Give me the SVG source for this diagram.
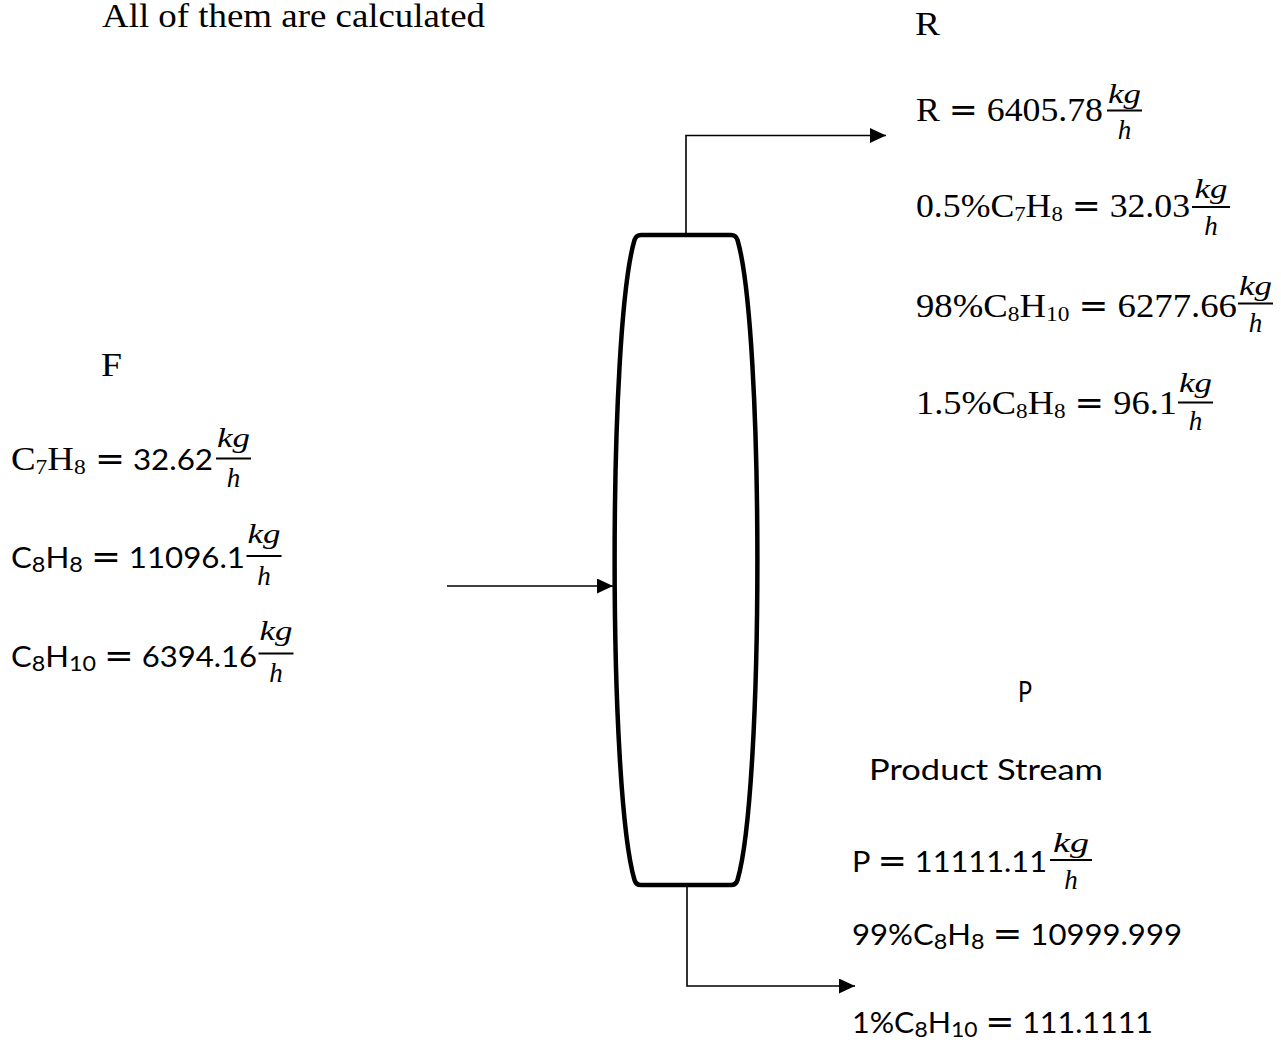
<svg xmlns="http://www.w3.org/2000/svg" width="1281" height="1044" viewBox="0 0 1281 1044">
<style>
.serif{font-family:"Liberation Serif","Times New Roman",serif;font-size:33px;fill:#000}
.sans{font-family:Lato,"Liberation Sans",sans-serif;font-size:28px;fill:#000}
.sub{font-size:21px}
.eq{font-family:"DejaVu Sans",sans-serif;font-size:32px}
.frac{font-family:"Liberation Serif",serif;font-style:italic;font-size:27px;fill:#000;text-anchor:middle}
.bar{stroke:#000;stroke-width:1.8}
.col{fill:none;stroke:#000;stroke-width:4.5;stroke-linejoin:round}
.conn{fill:none;stroke:#000;stroke-width:1.6}
</style>
<defs>
<marker id="ah" markerUnits="userSpaceOnUse" markerWidth="17" markerHeight="16" refX="16" refY="7.5" orient="auto">
<path d="M0,0 L16,7.5 L0,15 Z" fill="#000"/>
</marker>
</defs>
<rect width="1281" height="1044" fill="#fff"/>
<g id="title"><text class="serif" x="102" y="27" textLength="383" lengthAdjust="spacingAndGlyphs">All of them are calculated</text></g>
<g id="column"><path class="col" d="M641,235 L731,235 Q736,235 737.5,240 C764,330 764,790 737.5,880 Q736,885 731,885 L641,885 Q636,885 634.5,880 C608,790 608,330 634.5,240 Q636,235 641,235 Z"/></g>
<g id="connectors">
<path class="conn" d="M686,235 L686,135.5 L886,135.5" marker-end="url(#ah)"/>
<path class="conn" d="M687,886 L687,986 L855,986" marker-end="url(#ah)"/>
<path class="conn" d="M447,586 L613,586" marker-end="url(#ah)"/>
</g>
<g id="stream-R">
<text class="serif" x="915" y="35" textLength="25" lengthAdjust="spacingAndGlyphs">R</text>
<text class="serif" x="916" y="121" textLength="187" lengthAdjust="spacingAndGlyphs">R <tspan class="eq">=</tspan> 6405.78</text>
<text class="frac" x="1124.5" y="103" textLength="33" lengthAdjust="spacingAndGlyphs">kg</text><line class="bar" x1="1107" y1="110.5" x2="1142" y2="110.5"/><text class="frac" x="1124.5" y="139">h</text>
<text class="serif" x="916" y="217" textLength="274" lengthAdjust="spacingAndGlyphs">0.5%C<tspan class="sub" dy="4">7</tspan><tspan dy="-4">H</tspan><tspan class="sub" dy="4">8</tspan><tspan dy="-4"> </tspan><tspan class="eq">=</tspan> 32.03</text>
<text class="frac" x="1211" y="198" textLength="33" lengthAdjust="spacingAndGlyphs">kg</text><line class="bar" x1="1192" y1="207" x2="1230" y2="207"/><text class="frac" x="1211" y="235">h</text>
<text class="serif" x="916" y="317" textLength="321" lengthAdjust="spacingAndGlyphs">98%C<tspan class="sub" dy="4">8</tspan><tspan dy="-4">H</tspan><tspan class="sub" dy="4">10</tspan><tspan dy="-4"> </tspan><tspan class="eq">=</tspan> 6277.66</text>
<text class="frac" x="1255.5" y="295" textLength="33" lengthAdjust="spacingAndGlyphs">kg</text><line class="bar" x1="1238" y1="303.5" x2="1273" y2="303.5"/><text class="frac" x="1255.5" y="332">h</text>
<text class="serif" x="916" y="414" textLength="261" lengthAdjust="spacingAndGlyphs">1.5%C<tspan class="sub" dy="4">8</tspan><tspan dy="-4">H</tspan><tspan class="sub" dy="4">8</tspan><tspan dy="-4"> </tspan><tspan class="eq">=</tspan> 96.1</text>
<text class="frac" x="1195.5" y="392" textLength="33" lengthAdjust="spacingAndGlyphs">kg</text><line class="bar" x1="1178" y1="402.5" x2="1213" y2="402.5"/><text class="frac" x="1195.5" y="430">h</text>
</g>
<g id="stream-F">
<text class="serif" x="101" y="376" textLength="21" lengthAdjust="spacingAndGlyphs">F</text>
<text class="serif" x="11" y="470" textLength="202" lengthAdjust="spacingAndGlyphs">C<tspan class="sub" dy="4">7</tspan><tspan dy="-4">H</tspan><tspan class="sub" dy="4">8</tspan><tspan dy="-4"> </tspan><tspan class="eq">=</tspan><tspan class="sans"> 32.62</tspan></text>
<text class="frac" x="233.5" y="447" textLength="33" lengthAdjust="spacingAndGlyphs">kg</text><line class="bar" x1="216" y1="458.5" x2="251" y2="458.5"/><text class="frac" x="233.5" y="487">h</text>
<text class="sans" x="11" y="568" textLength="234" lengthAdjust="spacingAndGlyphs">C<tspan class="sub" dy="4">8</tspan><tspan dy="-4">H</tspan><tspan class="sub" dy="4">8</tspan><tspan dy="-4"> </tspan><tspan class="eq">=</tspan> 11096.1</text>
<text class="frac" x="264" y="543" textLength="33" lengthAdjust="spacingAndGlyphs">kg</text><line class="bar" x1="246.5" y1="556" x2="281.5" y2="556"/><text class="frac" x="264" y="585">h</text>
<text class="sans" x="11" y="667" textLength="246" lengthAdjust="spacingAndGlyphs">C<tspan class="sub" dy="4">8</tspan><tspan dy="-4">H</tspan><tspan class="sub" dy="4">10</tspan><tspan dy="-4"> </tspan><tspan class="eq">=</tspan> 6394.16</text>
<text class="frac" x="276" y="640" textLength="33" lengthAdjust="spacingAndGlyphs">kg</text><line class="bar" x1="258.5" y1="653.5" x2="293.5" y2="653.5"/><text class="frac" x="276" y="682">h</text>
</g>
<g id="stream-P">
<text class="sans" x="1018" y="702" textLength="14" lengthAdjust="spacingAndGlyphs">P</text>
<text class="sans" x="869" y="780" textLength="234" lengthAdjust="spacingAndGlyphs">Product Stream</text>
<text class="sans" x="852" y="872" textLength="195" lengthAdjust="spacingAndGlyphs">P <tspan class="eq">=</tspan> 11111.11</text>
<text class="frac" x="1071" y="852" textLength="36" lengthAdjust="spacingAndGlyphs">kg</text><line class="bar" x1="1050" y1="860" x2="1092" y2="860"/><text class="frac" x="1071" y="889">h</text>
<text class="sans" x="852" y="945" textLength="330" lengthAdjust="spacingAndGlyphs">99%C<tspan class="sub" dy="4">8</tspan><tspan dy="-4">H</tspan><tspan class="sub" dy="4">8</tspan><tspan dy="-4"> </tspan><tspan class="eq">=</tspan> 10999.999</text>
<text class="sans" x="852" y="1033" textLength="301" lengthAdjust="spacingAndGlyphs">1%C<tspan class="sub" dy="4">8</tspan><tspan dy="-4">H</tspan><tspan class="sub" dy="4">10</tspan><tspan dy="-4"> </tspan><tspan class="eq">=</tspan> 111.1111</text>
</g>
</svg>
